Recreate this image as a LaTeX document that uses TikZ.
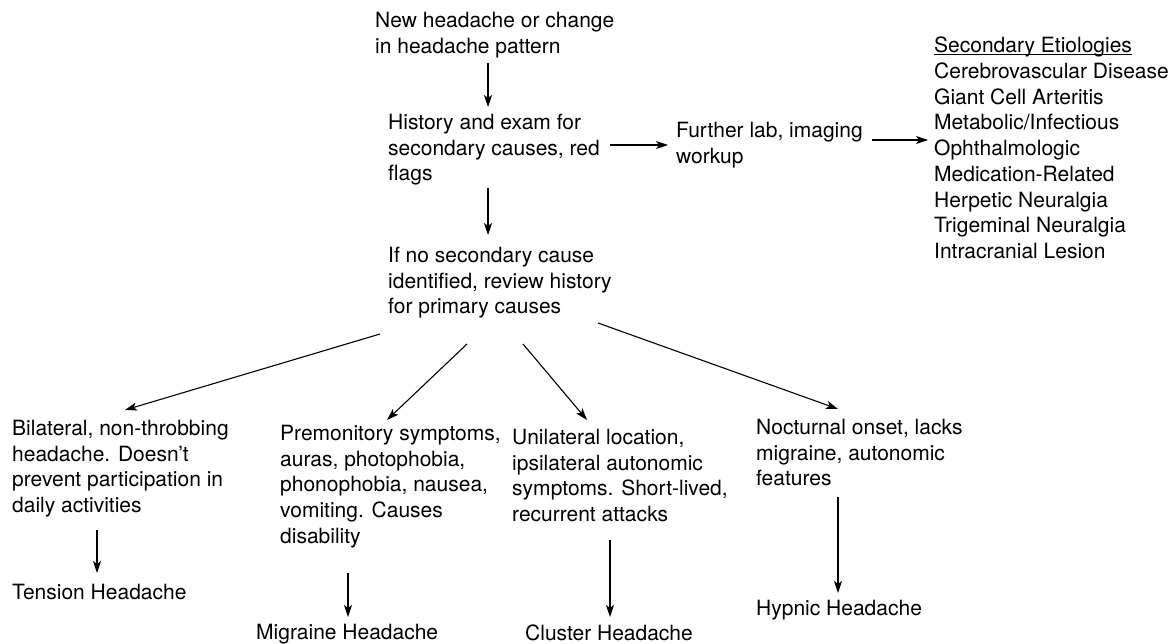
\documentclass[tikz,border=0pt]{standalone}
\usepackage{fontspec}
\setmainfont{TeX Gyre Heros}
\usetikzlibrary{arrows.meta,calc}
\newcommand{\myuline}[1]{{\setbox0\hbox{#1}\rlap{\rule[-2.5pt]{\wd0}{1.1pt}}\box0}}
\begin{document}
\begin{tikzpicture}[x=1pt,y=-1pt,
  txt/.style={anchor=north west, inner sep=0pt, align=left, font=\fontsize{21}{25.7}\selectfont},
  arr/.style={-{Stealth[length=12pt,width=8pt,inset=3pt]}, line width=1.1pt}]
\useasboundingbox[fill=white] (0,0) rectangle (1175,644);
\node[txt] (start) at (375,12) {New headache or change\\in headache pattern};
\node[txt] (hist) at (388,114) {History and exam for\\secondary causes, red\\flags};
\node[txt] (lab) at (676,122) {Further lab, imaging\\workup};
\node[txt] (etio) at (934,37) {\myuline{Secondary Etiologies}\\Cerebrovascular Disease\\Giant Cell Arteritis\\Metabolic/Infectious\\Ophthalmologic\\Medication-Related\\Herpetic Neuralgia\\Trigeminal Neuralgia\\Intracranial Lesion};
\node[txt] (prim) at (388,247) {If no secondary cause\\identified, review history\\for primary causes};
\node[txt] (bil) at (12,420) {Bilateral, non-throbbing\\headache. Doesn’t\\prevent participation in\\daily activities};
\node[txt] (prem) at (280,425) {Premonitory symptoms,\\auras, photophobia,\\phonophobia, nausea,\\vomiting. Causes\\disability};
\node[txt] (uni) at (512,429) {Unilateral location,\\ipsilateral autonomic\\symptoms. Short-lived,\\recurrent attacks};
\node[txt] (noc) at (756,419) {Nocturnal onset, lacks\\migraine, autonomic\\features};
\node[txt] (tens) at (12,584) {Tension Headache};
\node[txt] (mig) at (256,624) {Migraine Headache};
\node[txt] (clu) at (525,625) {Cluster Headache};
\node[txt] (hyp) at (756,600) {Hypnic Headache};

\draw[arr] ($(start.north west)+(113,51)$) -- ($(hist.north west)+(100,-7)$);
\draw[arr] ($(hist.north west)+(222,31)$) -- ($(lab.north west)+(-8,23)$);
\draw[arr] ($(lab.north west)+(196,18)$) -- ($(etio.north west)+(-6,103)$);
\draw[arr] ($(hist.north west)+(100,74)$) -- ($(prim.north west)+(100,-12)$);
\draw[arr] ($(prim.north west)+(-8,87)$) -- ($(bil.north west)+(113,-10)$);
\draw[arr] ($(prim.north west)+(79,97)$) -- ($(prem.north west)+(107,-5)$);
\draw[arr] ($(prim.north west)+(135,97)$) -- ($(uni.north west)+(75,-9)$);
\draw[arr] ($(prim.north west)+(210,76)$) -- ($(noc.north west)+(82,-10)$);
\draw[arr] ($(bil.north west)+(85,110)$) -- ($(tens.north west)+(85,-11)$);
\draw[arr] ($(prem.north west)+(68,148)$) -- ($(mig.north west)+(92,-7)$);
\draw[arr] ($(uni.north west)+(98,111)$) -- ($(clu.north west)+(85,-8)$);
\draw[arr] ($(noc.north west)+(82,78)$) -- ($(hyp.north west)+(82,-7)$);
\end{tikzpicture}
\end{document}
